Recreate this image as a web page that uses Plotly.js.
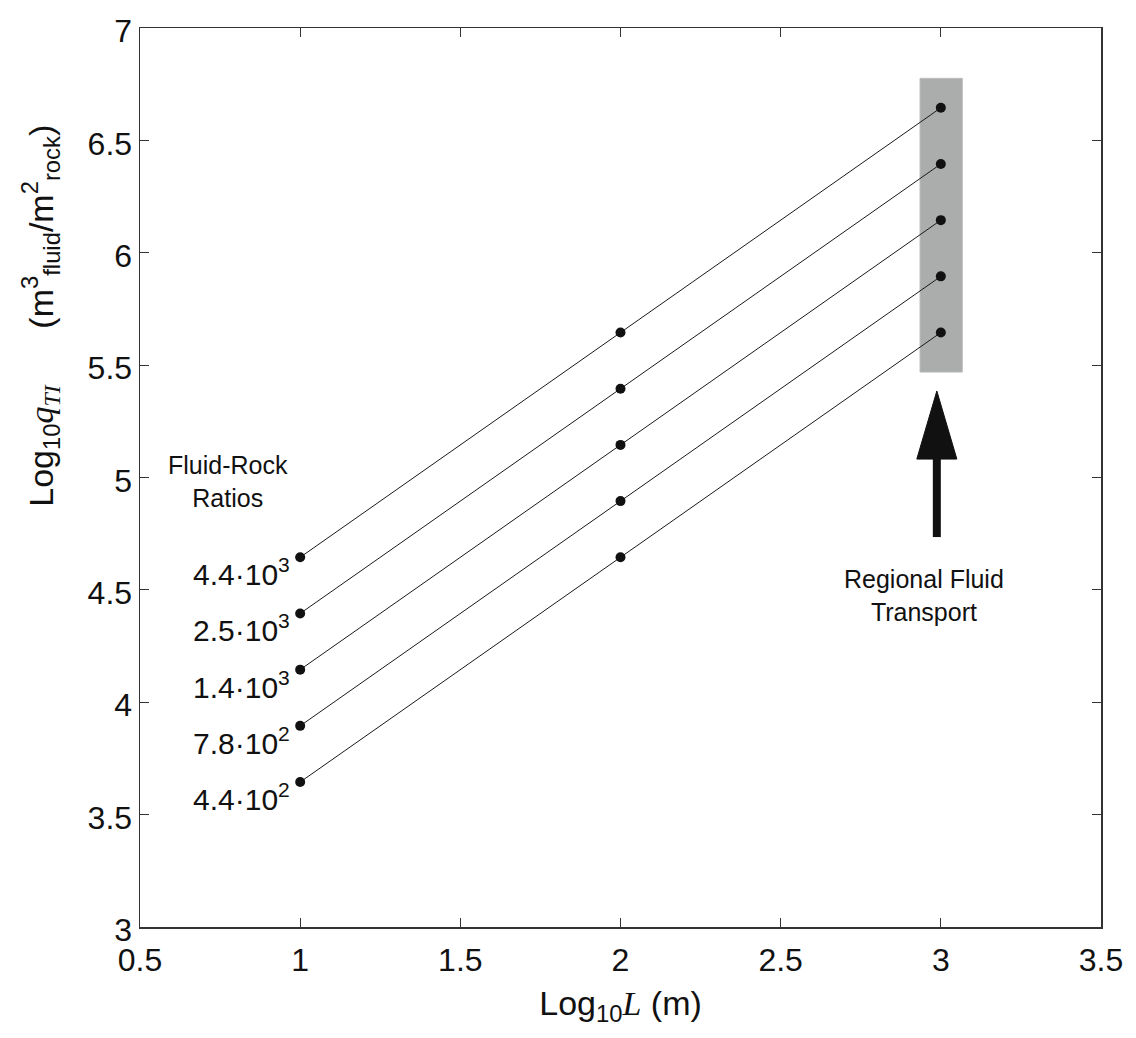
<!DOCTYPE html>
<html>
<head>
<meta charset="utf-8">
<script src="https://cdn.plot.ly/plotly-3.0.1.min.js"></script>
<style>body{margin:0;padding:0;background:#fff;}#chart{width:1136px;height:1038px;}</style>
</head>
<body>
<div id="chart"></div>
<script>
// Data
const logL = [1, 2, 3];
const ratioLabels = ["4.4·10<sup>3</sup>", "2.5·10<sup>3</sup>", "1.4·10<sup>3</sup>", "7.8·10<sup>2</sup>", "4.4·10<sup>2</sup>"];
const series1 = [4.645, 5.645, 6.645];
const series2 = [4.395, 5.395, 6.395];
const series3 = [4.145, 5.145, 6.145];
const series4 = [3.895, 4.895, 5.895];
const series5 = [3.645, 4.645, 5.645];
const allSeries = [series1, series2, series3, series4, series5];
const xTicks = [0.5, 1, 1.5, 2, 2.5, 3, 3.5];
const yTicks = [3, 3.5, 4, 4.5, 5, 5.5, 6, 6.5, 7];

const FONT = "Liberation Sans, Arial, Helvetica, sans-serif";
const SERIF = "Liberation Serif, Times New Roman, serif";

const traces = allSeries.map((s, i) => ({
  x: logL, y: s, type: 'scatter', mode: 'lines+markers',
  line: {color: '#1a1a1a', width: 1},
  marker: {color: '#111', size: 10},
  showlegend: false, hoverinfo: 'skip', cliponaxis: false
}));

const annotations = allSeries.map((s, i) => ({
  x: logL[0], y: s[0], xref: 'x', yref: 'y',
  text: ratioLabels[i], showarrow: false,
  xanchor: 'right', yanchor: 'middle', xshift: -8, yshift: -15,
  font: {family: FONT, size: 30, color: '#111'}
}));

annotations.push({
  x: 0.776, y: 4.98, xref: 'x', yref: 'y',
  text: 'Fluid-Rock<br>Ratios', showarrow: false,
  xanchor: 'center', yanchor: 'middle',
  font: {family: FONT, size: 25, color: '#111'}
});
annotations.push({
  x: 2.947, y: 4.477, xref: 'x', yref: 'y',
  text: 'Regional Fluid<br>Transport', showarrow: false,
  xanchor: 'center', yanchor: 'middle',
  font: {family: FONT, size: 25, color: '#111'}
});
annotations.push({
  x: -0.104, y: 0.68, xref: 'paper', yref: 'paper',
  text: 'Log<sub>10</sub><span style="font-family:' + SERIF + '"><i>q</i></span><sub><span style="font-family:' + SERIF + '"><i>TI</i></span></sub>      (m<sup>3</sup><sub>fluid</sub>/m<sup>2</sup><sub>rock</sub>)',
  showarrow: false, textangle: -90,
  xanchor: 'center', yanchor: 'middle',
  font: {family: FONT, size: 34, color: '#111'}
});

const layout = {
  width: 1136, height: 1038,
  margin: {l: 140, r: 35, t: 28, b: 111},
  paper_bgcolor: '#fff', plot_bgcolor: '#fff',
  font: {family: FONT, color: '#111'},
  xaxis: {
    range: [0.5, 3.5], tickvals: xTicks, ticktext: xTicks.map(String),
    ticks: 'inside', ticklen: 9, tickcolor: '#333', tickwidth: 1.2,
    showline: true, linecolor: '#333', linewidth: 1.5, mirror: 'ticks',
    showgrid: false, zeroline: false, ticklabelstandoff: 4,
    tickfont: {family: FONT, size: 32, color: '#111'},
    title: {text: 'Log<sub>10</sub><span style="font-family:' + SERIF + '"><i>L</i></span> (m)', font: {family: FONT, size: 34, color: '#111'}, standoff: 14}
  },
  yaxis: {
    range: [3, 7], tickvals: yTicks, ticktext: yTicks.map(String),
    ticks: 'inside', ticklen: 9, tickcolor: '#333', tickwidth: 1.2,
    showline: true, linecolor: '#333', linewidth: 1.5, mirror: 'ticks',
    showgrid: false, zeroline: false, ticklabelshift: 3,
    tickfont: {family: FONT, size: 32, color: '#111'}
  },
  shapes: [
    {type: 'rect', xref: 'x', yref: 'y', x0: 2.935, x1: 3.067, y0: 5.469, y1: 6.776,
     fillcolor: '#aaadac', line: {color: '#bcbcbc', width: 1}, layer: 'below'},
    {type: 'path', xref: 'x', yref: 'y',
     path: 'M 2.925 5.082 L 3.05 5.082 L 2.9875 5.385 Z',
     fillcolor: '#111', line: {color: '#111', width: 1}},
    {type: 'rect', xref: 'x', yref: 'y', x0: 2.975, x1: 3.0, y0: 4.735, y1: 5.09,
     fillcolor: '#111', line: {color: '#111', width: 0}}
  ],
  annotations: annotations,
  showlegend: false
};

Plotly.newPlot('chart', traces, layout, {displayModeBar: false, staticPlot: true});
</script>
</body>
</html>
